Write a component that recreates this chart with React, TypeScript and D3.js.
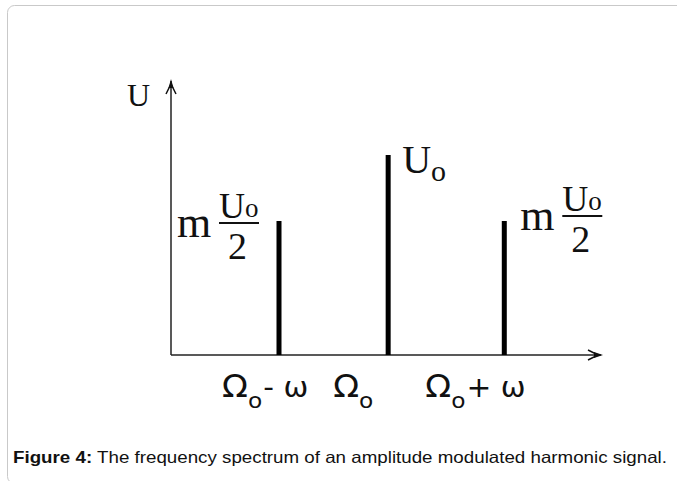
import React from 'react';
import * as d3 from 'd3';

// spectral lines: offset from carrier (in units of the modulation freq, as drawn) and amplitude (U0 = 1)
const lineNames = ['lower', 'carrier', 'upper'];
const lineOffsets = [-0.94, 0, 1.0];
const lineAmps = [0.67, 1.0, 0.67];

// bottom labels: base symbol, subscript, tail
const freqBase = ['\u03A9', '\u03A9', '\u03A9'];
const freqSub = ['o', 'o', 'o'];
const freqTail = ['- \u03C9', '', '+ \u03C9'];

const captionBold = 'Figure 4:';
const captionText = ' The frequency spectrum of an amplitude modulated harmonic signal.';

const W = 677;
const H = 481;

const serif = '"Liberation Serif", "Times New Roman", serif';
const sans = '"DejaVu Sans", Verdana, sans-serif';

function Fraction({ x, y }: { x: number; y: number }) {
  // "m U0/2" label, x = left edge of m, y = baseline of m
  return (
    <g transform={`translate(${x},${y})`} fill="#111">
      <text x={0} y={0} fontFamily={serif} fontSize={44}>m</text>
      <text x={42} y={-19} fontFamily={serif} fontSize={36}>
        U<tspan fontSize={27} dy={-1}>o</tspan>
      </text>
      <line x1={42} x2={82} y1={-14} y2={-14} stroke="#111" strokeWidth={2} />
      <text x={51} y={22} fontFamily={serif} fontSize={38}>2</text>
    </g>
  );
}

export default function App() {
  const axisY0 = 355;
  const x = d3.scaleLinear().domain([-1.87, 1.85]).range([171, 603]);
  const y = d3.scaleLinear().domain([0, 1]).range([axisY0, 155]);
  const yMax = 1.38;

  const x0 = x.range()[0];
  const x1 = x.range()[1];
  const yTop = y(yMax);

  return (
    <svg width={W} height={H} style={{ position: 'absolute', left: 0, top: 0, background: '#fff' }}>
      {/* figure frame */}
      <rect x={7.5} y={5.5} width={720} height={478} rx={7} fill="none" stroke="#c9c9c9" strokeWidth={1} />

      {/* axes */}
      <line x1={x0} x2={x0} y1={y(0)} y2={yTop + 2} stroke="#222" strokeWidth={1.5} />
      <line x1={x0} x2={x1 - 2} y1={y(0)} y2={y(0)} stroke="#222" strokeWidth={1.5} />
      <path d={`M${x0},${yTop} L${x0 - 2.5},${yTop + 9} L${x0 + 2.5},${yTop + 9} Z`} fill="#111" />
      <path d={`M${x0 - 5},${yTop + 15} L${x0},${yTop + 5} L${x0 + 5},${yTop + 15}`} fill="none" stroke="#111" strokeWidth={1.5} />
      <path d={`M${x1},${y(0)} L${x1 - 9},${y(0) - 3} L${x1 - 9},${y(0) + 3} Z`} fill="#111" />
      <path d={`M${x1 - 15},${y(0) - 5} L${x1 - 5},${y(0)} L${x1 - 15},${y(0) + 5}`} fill="none" stroke="#111" strokeWidth={1.5} />

      <text x={x0 - 44} y={yTop + 27} fontFamily={serif} fontSize={32} fill="#111">U</text>

      {/* spectral lines */}
      {lineNames.map((n, i) => (
        <rect
          key={n}
          x={x(lineOffsets[i]) - 2.5}
          y={y(lineAmps[i])}
          width={5}
          height={y(0) - y(lineAmps[i])}
          fill="#000"
        />
      ))}

      {/* amplitude labels */}
      <Fraction x={x(lineOffsets[0]) - 102} y={y(lineAmps[0]) + 16} />
      <text x={x(lineOffsets[1]) + 14} y={y(lineAmps[1]) + 18} fontFamily={serif} fontSize={40} fill="#111">
        U<tspan fontSize={30} dy={8}>o</tspan>
      </text>
      <Fraction x={x(lineOffsets[2]) + 16} y={y(lineAmps[2]) + 9} />

      {/* frequency labels */}
      {lineNames.map((n, i) => {
        const cx = x(lineOffsets[i]);
        const dx = [-57, -55, -79][i];
        return (
          <g key={n} transform={`translate(${cx + dx},397) scale(1.06,1)`}>
            <text x={0} y={0} fontFamily={sans} fontSize={32} fill="#111">
              {freqBase[i]}
              <tspan fontSize={22} dy={11}>{freqSub[i]}</tspan>
              {freqTail[i] && <tspan fontSize={28} dy={-11} dx={1}>{freqTail[i]}</tspan>}
            </text>
          </g>
        );
      })}

      {/* caption */}
      <text x={13} y={463} fontFamily='"Liberation Sans", Arial, sans-serif' fontSize={16.5} fill="#111" textLength={654} lengthAdjust="spacingAndGlyphs">
        <tspan fontWeight="bold">{captionBold}</tspan>
        {captionText}
      </text>
    </svg>
  );
}
